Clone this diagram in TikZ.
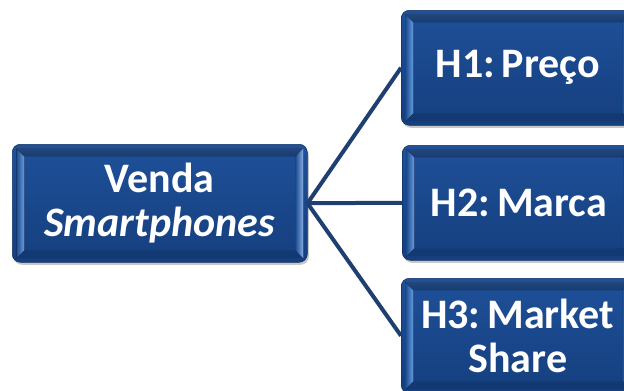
\documentclass[tikz,border=0pt]{standalone}
\usepackage{fontspec}
\setmainfont{Carlito}
\usetikzlibrary{shadows}
\definecolor{boxtop}{HTML}{1F5099}
\definecolor{boxbot}{HTML}{153F7E}
\definecolor{boxedge}{HTML}{0F2F60}
\definecolor{bevlight}{HTML}{6A9CE0}
\definecolor{bevdark}{HTML}{1A4A8E}
\definecolor{conncol}{HTML}{1F3F70}
\tikzset{
  bevbox/.style={rounded corners=8pt, top color=boxtop, bottom color=boxbot,
    draw=boxedge, line width=0.5pt, text=white, align=center,
    font=\bfseries\fontsize{42}{44}\selectfont, inner sep=0pt,
    drop shadow={shadow xshift=1.5pt, shadow yshift=-2.5pt, opacity=0.3, fill=black!70},
    path picture={
      \begin{scope}[sharp corners]
      \fill[left color=bevdark, right color=bevlight]
        ([xshift=4pt,yshift=-4pt]path picture bounding box.north west)
        -- ([xshift=12pt,yshift=-12pt]path picture bounding box.north west)
        -- ([xshift=12pt,yshift=12pt]path picture bounding box.south west)
        -- ([xshift=4pt,yshift=4pt]path picture bounding box.south west) -- cycle;
      \fill[left color=bevdark, right color=bevlight!80]
        ([xshift=-12pt,yshift=-12pt]path picture bounding box.north east)
        -- ([xshift=-4pt,yshift=-4pt]path picture bounding box.north east)
        -- ([xshift=-4pt,yshift=4pt]path picture bounding box.south east)
        -- ([xshift=-12pt,yshift=12pt]path picture bounding box.south east) -- cycle;
      \fill[top color=boxtop!85!white, bottom color=boxtop, opacity=0.4]
        ([xshift=4pt,yshift=-4pt]path picture bounding box.north west)
        -- ([xshift=-4pt,yshift=-4pt]path picture bounding box.north east)
        -- ([xshift=-12pt,yshift=-12pt]path picture bounding box.north east)
        -- ([xshift=12pt,yshift=-12pt]path picture bounding box.north west) -- cycle;
      \fill[boxedge, opacity=0.4]
        ([xshift=4pt,yshift=4pt]path picture bounding box.south west)
        -- ([xshift=12pt,yshift=12pt]path picture bounding box.south west)
        -- ([xshift=-12pt,yshift=12pt]path picture bounding box.south east)
        -- ([xshift=-4pt,yshift=4pt]path picture bounding box.south east) -- cycle;
      \end{scope}
    }},
  conn/.style={draw=conncol, line width=4pt}
}
\begin{document}
\begin{tikzpicture}[x=1pt,y=-1pt]
\useasboundingbox[fill=white] (0,0) rectangle (624,391);
\node[bevbox, minimum width=295pt, minimum height=118pt, anchor=north west] (root) at (12,144) {Venda\\\textit{Smartphones}};
\node[bevbox, minimum width=233pt, minimum height=115pt, anchor=north west] (h1) at (401,10) {H1:\,Preço};
\node[bevbox, minimum width=233pt, minimum height=115pt, anchor=north west] (h2) at (402,145) {H2:\,Marca};
\node[bevbox, minimum width=233pt, minimum height=115pt, anchor=north west] (h3) at (401,278) {H3:\,Market\\Share};
\draw[conn] (root.east) -- (h1.west);
\draw[conn] (root.east) -- (h2.west);
\draw[conn] (root.east) -- (h3.west);
\end{tikzpicture}
\end{document}
